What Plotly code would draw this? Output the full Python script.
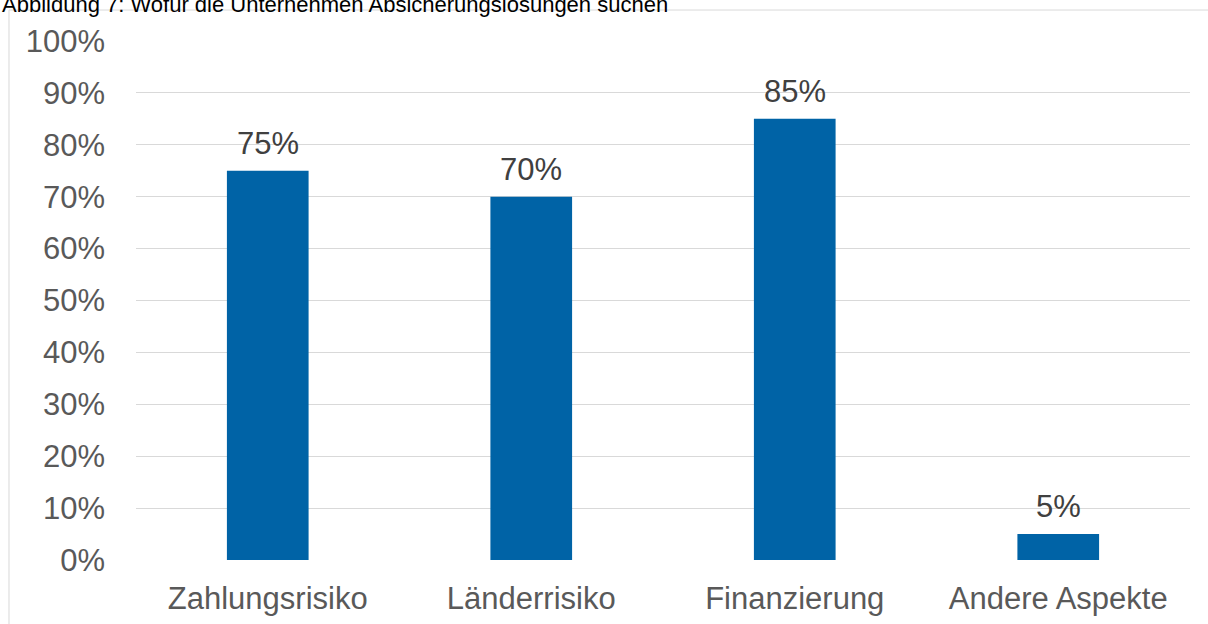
import plotly.graph_objects as go

# Data
categories = ["Zahlungsrisiko", "Länderrisiko", "Finanzierung", "Andere Aspekte"]
values = [75, 70, 85, 5]
tick_vals = [0, 10, 20, 30, 40, 50, 60, 70, 80, 90, 100]
tick_text = [f"{v}%" for v in tick_vals]
title_text = "Abbildung 7: Wofür die Unternehmen Absicherungslösungen suchen"

FONT = "Liberation Sans, Arial, sans-serif"

fig = go.Figure()

fig.add_trace(
    go.Bar(
        x=categories,
        y=values,
        marker=dict(color="#0063A6", line=dict(width=0)),
        hoverinfo="skip",
    )
)

# Value labels above the bars
for cat, val in zip(categories, values):
    fig.add_annotation(
        x=cat, y=val, xref="x", yref="y",
        text=f"{val}%", showarrow=False,
        yanchor="bottom", yshift=8,
        font=dict(family=FONT, size=31, color="#404040"),
    )

# Title (cut off at the top, as in the source)
fig.add_annotation(
    x=-0.129, y=1.0,
    xref="paper", yref="paper",
    text=title_text, showarrow=False,
    xanchor="left", yanchor="bottom", yshift=22,
    font=dict(family=FONT, size=22, color="#000000"),
)

# Outer frame
fig.add_shape(
    type="rect", xref="paper", yref="paper",
    x0=-0.1205, x1=1.05, y0=-0.2, y1=1.0597,
    line=dict(color="#d9d9d9", width=1),
    fillcolor="rgba(0,0,0,0)",
)

fig.update_layout(
    width=1208,
    height=624,
    margin=dict(l=136, r=18, t=41, b=64),
    paper_bgcolor="white",
    plot_bgcolor="white",
    bargap=0.69,
    showlegend=False,
    font=dict(family=FONT, size=31, color="#595959"),
    xaxis=dict(
        showgrid=False, showline=False, zeroline=False,
        ticks="", ticklabelstandoff=17, automargin=False,
        tickfont=dict(size=31, color="#595959"),
    ),
    yaxis=dict(
        range=[0, 100],
        tickvals=tick_vals, ticktext=tick_text,
        showgrid=True, gridcolor="#d9d9d9", gridwidth=1,
        zeroline=False, showline=False,
        ticks="", ticklabelstandoff=30, automargin=False,
        tickfont=dict(size=31, color="#595959"),
    ),
)

fig.write_html(
    "out.html",
    config={"displayModeBar": False},
    post_script="document.body.style.margin='0';",
)
